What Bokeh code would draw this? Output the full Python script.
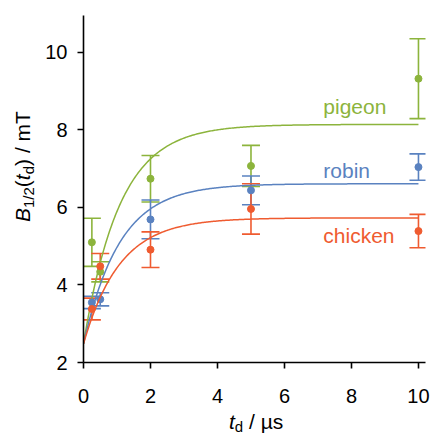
import numpy as np
from bokeh.plotting import figure
from bokeh.models import Range1d, FixedTicker, ColumnDataSource, Whisker, TeeHead, Label, Div
from bokeh.layouts import row, column
from bokeh.embed import file_html
from bokeh.resources import INLINE

# ---- data ----
t_d = [0.25, 0.5, 2, 5, 10]
pigeon = [5.10, 4.34, 6.74, 7.07, 9.32]
pigeon_err = [0.62, 0.26, 0.60, 0.53, 1.03]
robin = [3.55, 3.63, 5.69, 6.44, 7.04]
robin_err = [0.16, 0.17, 0.50, 0.37, 0.34]
chicken = [3.38, 4.48, 4.91, 5.96, 5.39]
chicken_err = [0.28, 0.33, 0.46, 0.65, 0.43]

# fitted exponential rise parameters: B0, Binf, tau (us)
fit_pigeon = (2.48, 8.14, 1.08)
fit_robin = (2.48, 6.61, 1.08)
fit_chicken = (2.48, 5.73, 1.08)

x_ticks = [0, 2, 4, 6, 8, 10]
y_ticks = [2, 4, 6, 8, 10]
series_names = ["pigeon", "robin", "chicken"]
colors = {"pigeon": "#8cb43c", "robin": "#5a82c0", "chicken": "#ef5b30"}

FONT = "Liberation Sans"
X0, X1 = 0, 10.21
Y0, Y1 = 2, 10.95
FW, FH = 342, 347
YDIV_W = 40
BL, BT, BR, BB = 83 - YDIV_W, 15, 8, 52
P_H = BT + FH + BB
XDIV_H = 435 - P_H

p = figure(width=BL + FW + BR, height=P_H, frame_width=FW, frame_height=FH,
           x_range=Range1d(X0, X1), y_range=Range1d(Y0, Y1),
           output_backend="svg", toolbar_location=None,
           min_border_left=BL, min_border_right=BR, min_border_top=BT, min_border_bottom=BB,
           margin=0)
p.outline_line_color = None
p.xgrid.visible = False
p.ygrid.visible = False
p.background_fill_color = "white"
p.border_fill_color = "white"

for ax in (p.xaxis, p.yaxis):
    ax.axis_line_width = 1.6
    ax.axis_line_color = "black"
    ax.major_tick_line_width = 1.6
    ax.major_tick_line_color = "black"
    ax.major_tick_in = 0
    ax.major_tick_out = 6
    ax.minor_tick_line_color = None
    ax.major_label_text_font = FONT
    ax.major_label_text_font_size = "20px"
    ax.major_label_text_color = "black"
p.xaxis.ticker = FixedTicker(ticks=x_ticks)
p.yaxis.ticker = FixedTicker(ticks=y_ticks)
p.xaxis.major_label_standoff = 20
p.yaxis.major_label_standoff = 10

data = {"pigeon": (pigeon, pigeon_err, fit_pigeon),
        "robin": (robin, robin_err, fit_robin),
        "chicken": (chicken, chicken_err, fit_chicken)}

tt = np.linspace(0, 10, 300)
for name in series_names:
    vals, errs, (b0, binf, tau) = data[name]
    c = colors[name]
    src = ColumnDataSource(dict(x=t_d, y=vals,
                                lo=[v - e for v, e in zip(vals, errs)],
                                hi=[v + e for v, e in zip(vals, errs)]))
    w = Whisker(source=src, base="x", lower="lo", upper="hi", dimension="height",
                line_color=c, line_width=1.6,
                upper_head=TeeHead(size=18, line_color=c, line_width=1.6),
                lower_head=TeeHead(size=18, line_color=c, line_width=1.6))
    p.add_layout(w)
    p.scatter("x", "y", source=src, size=7, color=c, line_color=c)
    p.line(tt, b0 + (binf - b0) * (1 - np.exp(-tt / tau)), line_color=c, line_width=1.5)

# series labels
label_pos = {"pigeon": (7.16, 8.60), "robin": (7.16, 6.94), "chicken": (7.16, 5.27)}
for name in series_names:
    lx, ly = label_pos[name]
    p.add_layout(Label(x=lx, y=ly, text=name, text_color=colors[name], text_font=FONT,
                       text_font_size="21px", text_baseline="alphabetic", text_align="left"))

SUB = "position:relative;top:4px;font-size:15px;"
XSUB = "position:relative;top:3px;font-size:15px;line-height:15px;"
TXT = "position:absolute;white-space:nowrap;font-family:'Liberation Sans',Arial,sans-serif;font-size:21px;line-height:21px;color:#000;"

ylabel_html = (
    f'<div style="position:relative;width:{YDIV_W}px;height:{P_H}px;overflow:hidden;">'
    f'<div style="{TXT}left:12px;top:222px;transform:rotate(-90deg);transform-origin:0 0;">'
    f'<i>B</i><span style="{SUB}">1/2</span>(<i>t</i><span style="{SUB}">d</span>) / mT'
    '</div></div>'
)
xlabel_html = (
    f'<div style="position:relative;width:433px;height:{XDIV_H}px;">'
    f'<div style="{TXT}left:229px;top:-3px;">'
    f'<i>t</i><span style="{XSUB}">d</span> / µs'
    '</div></div>'
)

ydiv = Div(text=ylabel_html, width=YDIV_W, height=P_H, margin=0)
xdiv = Div(text=xlabel_html, width=433, height=XDIV_H, margin=0)

layout = column(row(ydiv, p, spacing=0, margin=0), xdiv, spacing=0, margin=0)

open("out.html", "w").write(file_html(layout, INLINE))
